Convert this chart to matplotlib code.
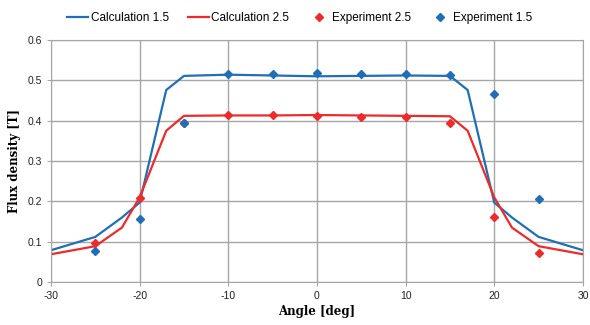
import matplotlib.pyplot as plt

plt.rcParams['axes.unicode_minus'] = False

# calculated curves
calc_angle = [-30, -25, -22, -20, -17, -15, -10, -5, 0, 5, 10, 15, 17, 20, 22, 25, 30]
calc_15 = [0.079, 0.112, 0.160, 0.197, 0.476, 0.511, 0.514, 0.512, 0.510, 0.511, 0.512, 0.511, 0.476, 0.197, 0.160, 0.112, 0.079]
calc_25 = [0.069, 0.089, 0.135, 0.210, 0.375, 0.412, 0.413, 0.413, 0.414, 0.413, 0.412, 0.411, 0.375, 0.210, 0.135, 0.089, 0.069]

# measured points
exp_angle = [-25, -20, -15, -10, -5, 0, 5, 10, 15, 20, 25]
exp_25 = [0.097, 0.208, 0.394, 0.414, 0.414, 0.412, 0.410, 0.409, 0.394, 0.161, 0.073]
exp_15 = [0.077, 0.156, 0.394, 0.515, 0.516, 0.517, 0.515, 0.515, 0.512, 0.465, 0.207]

blue = '#1f6fb8'
red = '#ee2b2b'

fig = plt.figure(figsize=(5.9, 3.25), dpi=100)
ax = fig.add_axes([0.0864, 0.132, 0.9016, 0.745])

ax.plot(calc_angle, calc_15, color=blue, lw=1.6, label='Calculation 1.5')
ax.plot(calc_angle, calc_25, color=red, lw=1.6, label='Calculation 2.5')
ax.plot(exp_angle, exp_25, 'D', color=red, ms=4, lw=0, label='Experiment 2.5')
ax.plot(exp_angle, exp_15, 'D', color=blue, ms=4, lw=0, label='Experiment 1.5')

ax.set_xlim(-30, 30)
ax.set_ylim(0, 0.6)
ax.set_xticks(range(-30, 31, 10))
ax.set_yticks([0, 0.1, 0.2, 0.3, 0.4, 0.5, 0.6])
ax.set_yticklabels(['0', '0.1', '0.2', '0.3', '0.4', '0.5', '0.6'])
ax.grid(True, color='#a6a6a6', lw=1)
ax.set_axisbelow(True)
for s in ax.spines.values():
    s.set_color('#a6a6a6')
ax.tick_params(labelsize=7.5, length=3, color='#a6a6a6')
for lab in ax.get_xticklabels() + ax.get_yticklabels():
    lab.set_color('#222222')
    lab.set_family('Liberation Sans')

ax.set_xlabel('Angle [deg]', family='DejaVu Serif', fontweight='bold', fontsize=8.5, labelpad=3)
ax.set_ylabel('Flux density [T]', family='DejaVu Serif', fontweight='bold', fontsize=8.5, labelpad=5)

fig.legend(loc='center', bbox_to_anchor=(0.508, 0.945), ncol=4, frameon=False,
           prop={'family': 'Liberation Sans', 'size': 8.5},
           handlelength=1.8, handletextpad=0.2, columnspacing=1.6)

fig.savefig('out.png')
